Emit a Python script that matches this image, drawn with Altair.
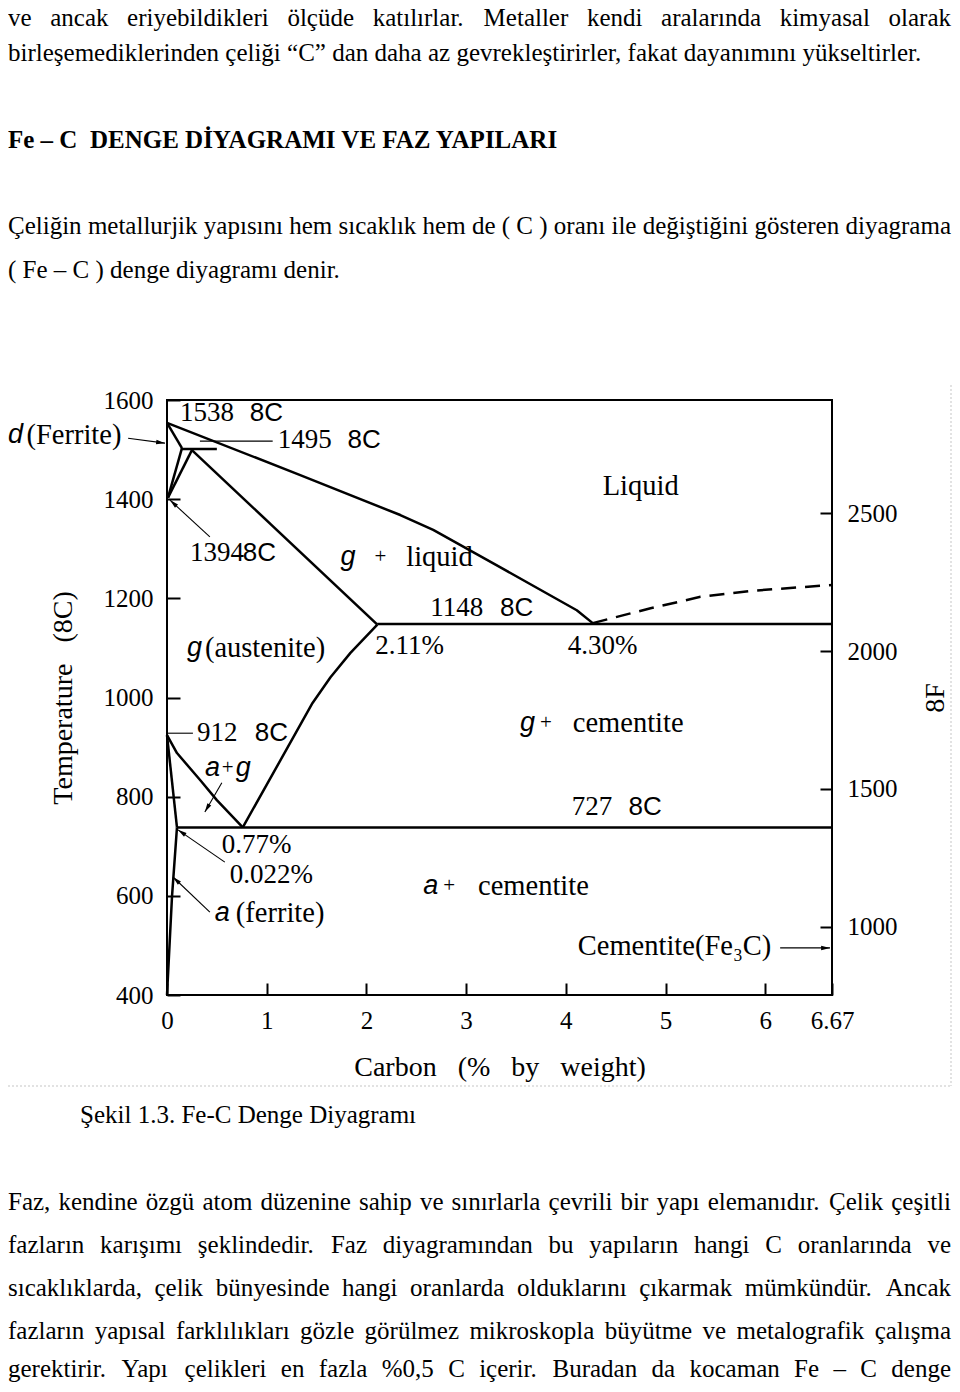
import math
import altair as alt
import pandas as pd

SERIF = "Liberation Serif"
SANS = "Liberation Sans"
INK = "#000000"

# ---------------------------------------------------------------------------
# Fe-C diagram: boundaries (carbon wt %, temperature °C)
# ---------------------------------------------------------------------------
C_DOMAIN = [0.0, 6.67]
T_DOMAIN = [400, 1600]
C_TICKS = [0, 1, 2, 3, 4, 5, 6, 6.67]
T_TICKS = [400, 600, 800, 1000, 1200, 1400, 1600]
F_TICKS = [1000, 1500, 2000, 2500]

LIQUIDUS_C = [0.0, 1.33, 2.34, 2.67, 3.34, 4.11, 4.27]
LIQUIDUS_T = [1554, 1449, 1368, 1338, 1263, 1176, 1150]
DELTA_SOLIDUS_C = [0.0, 0.15]
DELTA_SOLIDUS_T = [1554, 1503]
PERITECTIC_C = [0.15, 0.50]
PERITECTIC_T = [1501, 1501]
GAMMA_SOLIDUS_C = [0.25, 2.11]
GAMMA_SOLIDUS_T = [1499, 1147]
DELTA_GAMMA_A_C = [0.15, 0.01]
DELTA_GAMMA_A_T = [1503, 1403]
DELTA_GAMMA_B_C = [0.25, 0.01]
DELTA_GAMMA_B_T = [1499, 1403]
EUTECTIC_C = [2.11, 6.67]
EUTECTIC_T = [1148, 1148]
ACM_C = [0.76, 1.46, 1.64, 1.84, 2.11]
ACM_T = [738, 989, 1041, 1090, 1147]
A3_C = [0.0, 0.10, 0.33, 0.50, 0.76]
A3_T = [924, 888, 834, 793, 738]
ALPHA_C = [0.0, 0.10]
ALPHA_T = [924, 738]
SOLVUS_C = [0.10, 0.05, 0.0]
SOLVUS_T = [738, 598, 400]
EUTECTOID_C = [0.10, 6.67]
EUTECTOID_T = [738, 738]
CEM_LIQ_C = [4.27, 4.85, 5.35, 5.85, 6.67]   # dashed
CEM_LIQ_T = [1150, 1180, 1203, 1215, 1227]

# pointer lines (from -> to), arrow head at "to" when flagged
PTR_C0 = [-0.39, 0.43, 0.55, 0.58, 0.43, 6.15, 0.33, 0.00]
PTR_T0 = [1523, 1324, 828, 668, 567, 495, 1517, 928]
PTR_C1 = [-0.02, 0.03, 0.38, 0.11, 0.06, 6.65, 1.06, 0.26]
PTR_T1 = [1513, 1398, 769, 733, 638, 495, 1517, 928]
PTR_HEAD = [True, True, True, True, True, True, False, False]

# labels (left edge, vertical middle)
LABEL_TEXT = ["1538", "8C", "1495", "8C", "Liquid", "1394", "8C", "g", "+", "liquid",
              "1148", "8C", "g", "(austenite)", "2.11%", "4.30%", "912", "8C", "g", "+",
              "cementite", "a", "+", "g", "727", "8C", "0.77%", "0.022%", "a", "+",
              "cementite", "a", "(ferrite)", "Cementite(Fe\u2083C)", "d", "(Ferrite)"]
LABEL_C = [0.13, 0.83, 1.11, 1.81, 4.37, 0.23, 0.76, 1.74, 2.08, 2.40,
           2.64, 3.34, 0.20, 0.38, 2.09, 4.02, 0.30, 0.88, 3.54, 3.74,
           4.07, 0.38, 0.55, 0.69, 4.06, 4.63, 0.55, 0.63, 2.57, 2.77,
           3.12, 0.48, 0.69, 4.12, -1.595, -1.41]
LABEL_T = [1574, 1574, 1519, 1519, 1427, 1291, 1291, 1283, 1283, 1283,
           1181, 1181, 1100, 1100, 1104, 1104, 928, 928, 949, 949,
           949, 858, 858, 858, 779, 779, 703, 642, 620, 620,
           620, 565, 565, 499, 1529, 1529]
LABEL_STYLE = ["num", "sans", "num", "sans", "word", "num", "sans", "italic", "plus", "word",
               "num", "sans", "italic", "word", "num", "num", "num", "sans", "italic", "plus",
               "word", "italic", "plus", "italic", "num", "sans", "num", "num", "italic", "plus",
               "word", "italic", "word", "word", "italic", "word"]

# ---------------------------------------------------------------------------
# Page text
# ---------------------------------------------------------------------------
TOP_LINES = [
    "ve ancak eriyebildikleri ölçüde katılırlar. Metaller kendi aralarında kimyasal olarak",
    "birleşemediklerinden çeliği “C” dan daha az gevrekleştirirler, fakat dayanımını yükseltirler.",
    "Fe – C\u00a0 DENGE DİYAGRAMI VE FAZ YAPILARI",
    "Çeliğin metallurjik yapısını hem sıcaklık hem de ( C ) oranı ile değiştiğini gösteren diyagrama",
    "( Fe – C ) denge diyagramı denir.",
]
TOP_ROWS = [0, 1, 3, 5, 6]
TOP_JUSTIFY = [True, False, False, True, False]
TOP_BOLD = [False, False, True, False, False]

BOTTOM_LINES = [
    "Şekil 1.3. Fe-C Denge Diyagramı",
    "Faz, kendine özgü atom düzenine sahip ve sınırlarla çevrili bir yapı elemanıdır. Çelik çeşitli",
    "fazların karışımı şeklindedir. Faz diyagramından bu yapıların hangi C oranlarında ve",
    "sıcaklıklarda, çelik bünyesinde hangi oranlarda olduklarını çıkarmak mümkündür. Ancak",
    "fazların yapısal farklılıkları gözle görülmez mikroskopla büyütme ve metalografik çalışma",
    "gerektirir. Yapı çelikleri en fazla %0,5 C içerir. Buradan da kocaman Fe – C denge",
]
BOTTOM_ROWS = [0, 2, 3, 4, 5, 6]
BOTTOM_JUSTIFY = [False, True, True, True, True, True]
BOTTOM_INDENT = [True, False, False, False, False, False]

# ---------------------------------------------------------------------------
# Layout (page pixels)
# ---------------------------------------------------------------------------
PLOT_W, PLOT_H = 665, 595
PLOT_LEFT, PLOT_TOP = 167, 400          # plot area position on the page
BODY = 8
TOTAL_W, TOTAL_H = 944, 1376
PX_C = PLOT_W / (C_DOMAIN[1] - C_DOMAIN[0])
PX_T = PLOT_H / (T_DOMAIN[1] - T_DOMAIN[0])

FS = 25
TOP_PITCH = 43.3
TOP_Y0 = 11.5
BOTTOM_PITCH = 43.2
BOTTOM_Y0 = 1117.0
MIN_CENTER = 19.5
MAX_CENTER = 1371.0
TEXT_LEFT = 8
TEXT_RIGHT = 951
CAPTION_LEFT = 80

# faint edge of the scanned figure (page pixels)
SCAN_EDGE_X = 951
SCAN_EDGE_Y = 1086
SCAN_TOP = 385

# Times-compatible advance widths (1/1000 em)
W = {" ": 250, ",": 250, ".": 250, ":": 278, ";": 278, "(": 333, ")": 333, "%": 833,
     "-": 333, "–": 500, "“": 444, "”": 444, "\u00a0": 250}
for ch, w in zip("abcdefghijklmnopqrstuvwxyz",
                 [444, 500, 444, 500, 444, 333, 500, 500, 278, 278, 500, 278, 778,
                  500, 500, 500, 500, 333, 389, 278, 500, 500, 722, 500, 500, 444]):
    W[ch] = w
for ch, w in zip("ABCDEFGHIJKLMNOPQRSTUVWXYZ",
                 [722, 667, 667, 722, 611, 556, 722, 722, 333, 389, 722, 611, 889,
                  722, 722, 556, 722, 667, 556, 611, 722, 722, 944, 722, 722, 611]):
    W[ch] = w
for ch in "0123456789":
    W[ch] = 500
W.update({"ç": 444, "ğ": 500, "ı": 278, "ö": 500, "ş": 389, "ü": 500,
          "Ç": 667, "İ": 333, "Ş": 556, "Ö": 722, "Ü": 722, "Ğ": 722})


def text_width(s, size):
    return sum(W.get(ch, 500) for ch in s) / 1000.0 * size


def place(lines, rows, y0, pitch, justify, bold, indent):
    out = []
    for line, row, just, b, ind in zip(lines, rows, justify, bold, indent):
        center = min(max(y0 + row * pitch, MIN_CENTER), MAX_CENTER)
        py = center - 0.07 * FS
        left = CAPTION_LEFT if ind else TEXT_LEFT
        if just:
            words = line.split(" ")
            widths = [text_width(w, FS) for w in words]
            gap = (TEXT_RIGHT - left - sum(widths)) / (len(words) - 1)
            x = left
            for w, wd in zip(words, widths):
                out.append({"txt": w, "px": x, "py": py, "bold": b})
                x += wd + gap
        else:
            out.append({"txt": line, "px": left, "py": py, "bold": b})
    return out


text_rows = place(TOP_LINES, TOP_ROWS, TOP_Y0, TOP_PITCH, TOP_JUSTIFY, TOP_BOLD, [False] * 5)
text_rows += place(BOTTOM_LINES, BOTTOM_ROWS, BOTTOM_Y0, BOTTOM_PITCH, BOTTOM_JUSTIFY,
                   [False] * 6, BOTTOM_INDENT)
text_df = pd.DataFrame(text_rows)

edge_df = pd.DataFrame({
    "px": [SCAN_EDGE_X, BODY],
    "py": [SCAN_TOP, SCAN_EDGE_Y],
    "px2": [SCAN_EDGE_X, SCAN_EDGE_X],
    "py2": [SCAN_EDGE_Y, SCAN_EDGE_Y],
})

# ---------------------------------------------------------------------------
# Data frames for the diagram
# ---------------------------------------------------------------------------
SOLID = {
    "liquidus": (LIQUIDUS_C, LIQUIDUS_T),
    "delta_solidus": (DELTA_SOLIDUS_C, DELTA_SOLIDUS_T),
    "peritectic": (PERITECTIC_C, PERITECTIC_T),
    "gamma_solidus": (GAMMA_SOLIDUS_C, GAMMA_SOLIDUS_T),
    "delta_gamma_a": (DELTA_GAMMA_A_C, DELTA_GAMMA_A_T),
    "delta_gamma_b": (DELTA_GAMMA_B_C, DELTA_GAMMA_B_T),
    "eutectic": (EUTECTIC_C, EUTECTIC_T),
    "acm": (ACM_C, ACM_T),
    "a3": (A3_C, A3_T),
    "alpha": (ALPHA_C, ALPHA_T),
    "solvus": (SOLVUS_C, SOLVUS_T),
    "eutectoid": (EUTECTOID_C, EUTECTOID_T),
}
line_rows = []
for name, (cs, ts) in SOLID.items():
    for i, (c, t) in enumerate(zip(cs, ts)):
        line_rows.append({"seg": name, "i": i, "cx": c, "t": t})
lines_df = pd.DataFrame(line_rows)
dash_df = pd.DataFrame({"i": range(len(CEM_LIQ_C)), "cx": CEM_LIQ_C, "t": CEM_LIQ_T})

ptr_df = pd.DataFrame({"cx": PTR_C0, "t": PTR_T0, "cx1": PTR_C1, "t1": PTR_T1})
HEAD_BACK = 4.4
heads = []
for c0, t0, c1, t1, h in zip(PTR_C0, PTR_T0, PTR_C1, PTR_T1, PTR_HEAD):
    if not h:
        continue
    dx = (c1 - c0) * PX_C
    dy = -(t1 - t0) * PX_T
    L = math.hypot(dx, dy)
    ux, uy = dx / L, dy / L
    ang = math.degrees(math.atan2(dx, -dy)) % 360
    heads.append({"cx": c1 - HEAD_BACK * ux / PX_C, "t": t1 + HEAD_BACK * uy / PX_T, "ang": ang})
head_df = pd.DataFrame(heads)

label_df = pd.DataFrame({"txt": LABEL_TEXT, "cx": LABEL_C, "t": LABEL_T, "style": LABEL_STYLE})
f_df = pd.DataFrame({"f": F_TICKS})

# ---------------------------------------------------------------------------
# Chart
# ---------------------------------------------------------------------------
c_scale = alt.Scale(domain=C_DOMAIN, nice=False, zero=False)
t_scale = alt.Scale(domain=T_DOMAIN, nice=False, zero=False)
NB = "\u00a0"

x_axis = alt.Axis(
    values=C_TICKS,
    labelExpr="datum.value == 6.67 ? '6.67' : format(datum.value, 'd')",
    labelFont=SERIF, labelFontSize=25, labelColor=INK, labelPadding=13,
    labelFlush=False, labelOverlap=False,
    tickSize=12, offset=-12, tickColor=INK, tickWidth=2, domain=False, grid=False,
    title=f"Carbon{NB*3}(%{NB*3}by{NB*3}weight)", titleFont=SERIF, titleFontSize=28,
    titleFontWeight="normal", titleColor=INK, titlePadding=20,
)
y_axis = alt.Axis(
    values=T_TICKS, format="d",
    labelFont=SERIF, labelFontSize=25, labelColor=INK, labelPadding=14,
    labelFlush=False, labelOverlap=False,
    tickSize=13, offset=-13, tickColor=INK, tickWidth=2, domain=False, grid=False,
    title=f"Temperature{NB*3}(8C)", titleFont=SERIF, titleFontSize=28,
    titleFontWeight="normal", titleColor=INK, titlePadding=26,
)
f_axis = alt.Axis(
    orient="right", values=F_TICKS, format="d",
    labelFont=SERIF, labelFontSize=25, labelColor=INK, labelPadding=15,
    labelFlush=False, labelOverlap=False,
    tickSize=12, offset=-12, tickColor=INK, tickWidth=2, domain=False, grid=False,
    title="8F", titleFont=SERIF, titleFontSize=28, titleFontWeight="normal",
    titleColor=INK, titlePadding=52, titleAngle=270,
)

X = alt.X("cx:Q", scale=c_scale, axis=x_axis)
Y = alt.Y("t:Q", scale=t_scale, axis=y_axis)

lines = alt.Chart(lines_df).mark_line(color=INK, strokeWidth=2.5, strokeJoin="round").encode(
    x=X, y=Y, detail="seg:N", order="i:Q")
dashed = alt.Chart(dash_df).mark_line(color=INK, strokeWidth=2.5, strokeDash=[15, 9]).encode(
    x=X, y=Y, order="i:Q")
pointers = alt.Chart(ptr_df).mark_rule(color=INK, strokeWidth=1.1).encode(
    x=X, y=Y, x2="cx1:Q", y2="t1:Q")
arrowheads = alt.Chart(head_df).mark_point(
    shape="M0,-1L0.5,1L-0.5,1Z", filled=True, color=INK, size=80, opacity=1,
    strokeWidth=0).encode(x=X, y=Y, angle=alt.Angle("ang:Q", scale=None))


def label_layer(style, **mark):
    return alt.Chart(label_df).transform_filter(alt.datum.style == style).mark_text(
        align="left", baseline="middle", color=INK, **mark).encode(x=X, y=Y, text="txt:N")


lab_num = label_layer("num", font=SERIF, fontSize=27)
lab_word = label_layer("word", font=SERIF, fontSize=28.5)
lab_sans = label_layer("sans", font=SANS, fontSize=26)
lab_italic = label_layer("italic", font=SANS, fontSize=27, fontStyle="italic")
lab_plus = label_layer("plus", font=SERIF, fontSize=21)

diagram = alt.layer(lines, dashed, pointers, arrowheads,
                    lab_num, lab_word, lab_sans, lab_italic, lab_plus)

fahrenheit = alt.Chart(f_df).mark_point(opacity=0).encode(
    x=alt.value(0),
    y=alt.Y("f:Q", scale=alt.Scale(domain=[t * 9 / 5 + 32 for t in T_DOMAIN], nice=False, zero=False),
            axis=f_axis),
)

px_scale = alt.Scale(domain=[PLOT_LEFT, PLOT_LEFT + PLOT_W], nice=False, zero=False)
py_scale = alt.Scale(domain=[PLOT_TOP, PLOT_TOP + PLOT_H], nice=False, zero=False, reverse=True)
PX = alt.X("px:Q", scale=px_scale, axis=None)
PY = alt.Y("py:Q", scale=py_scale, axis=None)


def page_text(bold):
    return alt.Chart(text_df).transform_filter(alt.datum.bold == bold).mark_text(
        align="left", baseline="middle", font=SERIF, fontSize=FS, color=INK,
        fontWeight="bold" if bold else "normal").encode(x=PX, y=PY, text="txt:N")


scan_edge = alt.Chart(edge_df).mark_rule(color="#d9d9d9", strokeWidth=1.5, strokeDash=[2, 2]).encode(
    x=PX, y=PY, x2="px2:Q", y2="py2:Q")

page = alt.layer(scan_edge, page_text(False), page_text(True))

chart = alt.layer(diagram, fahrenheit, page).resolve_scale(
    x="independent", y="independent"
).properties(
    width=PLOT_W, height=PLOT_H,
    autosize=alt.AutoSizeParams(type="none"),
    padding={"left": PLOT_LEFT - BODY, "top": PLOT_TOP - BODY,
             "right": TOTAL_W - (PLOT_LEFT - BODY) - PLOT_W,
             "bottom": TOTAL_H - (PLOT_TOP - BODY) - PLOT_H},
    background="white",
).configure_view(stroke=INK, strokeWidth=2)

chart.save("out.html", embed_options={"renderer": "svg", "actions": False})
